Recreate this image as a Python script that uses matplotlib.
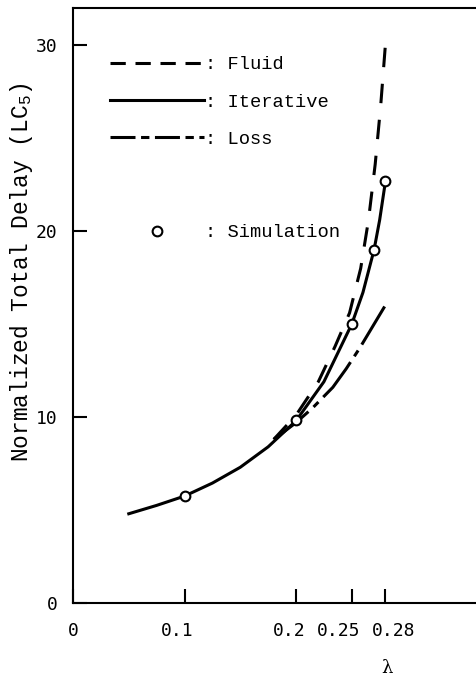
import matplotlib
matplotlib.use("Agg")
import matplotlib.pyplot as plt
import matplotlib.transforms as mtransforms
from matplotlib.lines import Line2D

plt.rcParams['lines.scale_dashes'] = False
plt.rcParams['mathtext.default'] = 'regular'

# curves
lam_iter = [0.05, 0.075, 0.10, 0.125, 0.15, 0.175, 0.20, 0.225, 0.25, 0.26, 0.27, 0.275, 0.28]
delay_iter = [4.8, 5.25, 5.75, 6.45, 7.3, 8.4, 9.8, 11.9, 15.0, 16.7, 19.0, 20.6, 22.6]

lam_fluid = [0.18, 0.20, 0.22, 0.235, 0.248, 0.258, 0.265, 0.271, 0.276, 0.2805]
delay_fluid = [8.8, 10.1, 11.9, 13.8, 15.6, 18.0, 20.6, 23.6, 26.8, 30.3]

lam_loss = [0.18, 0.20, 0.215, 0.233, 0.245, 0.257, 0.268, 0.28]
delay_loss = [8.8, 9.7, 10.5, 11.6, 12.6, 13.7, 14.8, 16.0]

lam_sim = [0.10, 0.20, 0.25, 0.27, 0.28]
delay_sim = [5.75, 9.85, 15.0, 19.0, 22.7]

xticks = [0, 0.1, 0.2, 0.25, 0.28]
xticklabels = ['0', '0.1', '0.2', '0.25', '0.28']
xlabel_shift = [0, -7, -7, -13, 8]   # hand placed labels in the original, px
yticks = [0, 10, 20, 30]

mono = 'Liberation Mono'
tickfont = 'DejaVu Sans Mono'

fig = plt.figure(figsize=(4.76, 6.78), dpi=100)
ax = fig.add_axes([0.1534, 0.1106, 0.8466, 0.8776])

lw = 2.2
fluid_dash = (14, 12)
loss_dash = (32, 5, 5, 5)
ax.plot(lam_fluid, delay_fluid, color='black', lw=lw, dashes=fluid_dash)
ax.plot(lam_iter, delay_iter, color='black', lw=lw)
ax.plot(lam_loss, delay_loss, color='black', lw=lw, dashes=loss_dash)
ax.plot(lam_sim, delay_sim, 'o', ms=7, mfc='white', mec='black', mew=1.5, zorder=5)

ax.set_xlim(0, 0.3614)
ax.set_ylim(0, 32)
ax.set_xticks(xticks)
ax.set_xticklabels(xticklabels, family=tickfont)
ax.set_yticks(yticks)
ax.set_yticklabels([str(v) for v in yticks], family=tickfont)
ax.tick_params(direction='in', length=10, width=1.5, labelsize=13)
ax.tick_params(axis='x', pad=14)
ax.tick_params(axis='y', pad=11)
for lab, dx in zip(ax.get_xticklabels(), xlabel_shift):
    lab.set_transform(lab.get_transform() +
                      mtransforms.ScaledTranslation(dx / 100, 0, fig.dpi_scale_trans))
ax.spines['right'].set_visible(False)
for s in ['left', 'bottom', 'top']:
    ax.spines[s].set_linewidth(1.5)

fig.text(0.046, 0.598, 'Normalized Total Delay (LC$_5$)', rotation=90,
         ha='center', va='center', fontsize=16.5, family=mono)
trans = mtransforms.blended_transform_factory(ax.transData, fig.transFigure)
ax.text(0.2815, 0.002, 'λ', transform=trans, ha='center', va='bottom',
        fontsize=13, family='DejaVu Serif')

handles = [
    Line2D([], [], color='black', lw=lw, dashes=(11, 7)),
    Line2D([], [], color='black', lw=lw),
    Line2D([], [], color='black', lw=lw, dashes=(18, 4, 6, 4)),
]
leg1 = ax.legend(handles, [': Fluid', ': Iterative', ': Loss'],
                 loc='upper left', bbox_to_anchor=(0.0918, 0.919), frameon=False,
                 borderpad=0, borderaxespad=0, handlelength=5.0, handletextpad=0.05,
                 labelspacing=1.07, prop={'family': mono, 'size': 13.5})
ax.add_artist(leg1)
sim_handle = Line2D([], [], ls='none', marker='o', ms=7, mfc='white', mec='black', mew=1.5)
ax.legend([sim_handle], [': Simulation'], loc='upper left', bbox_to_anchor=(0.0918, 0.637),
          frameon=False, borderpad=0, borderaxespad=0, handlelength=5.0,
          handletextpad=0.05, prop={'family': mono, 'size': 13.5})

fig.savefig('out.png', dpi=100)
